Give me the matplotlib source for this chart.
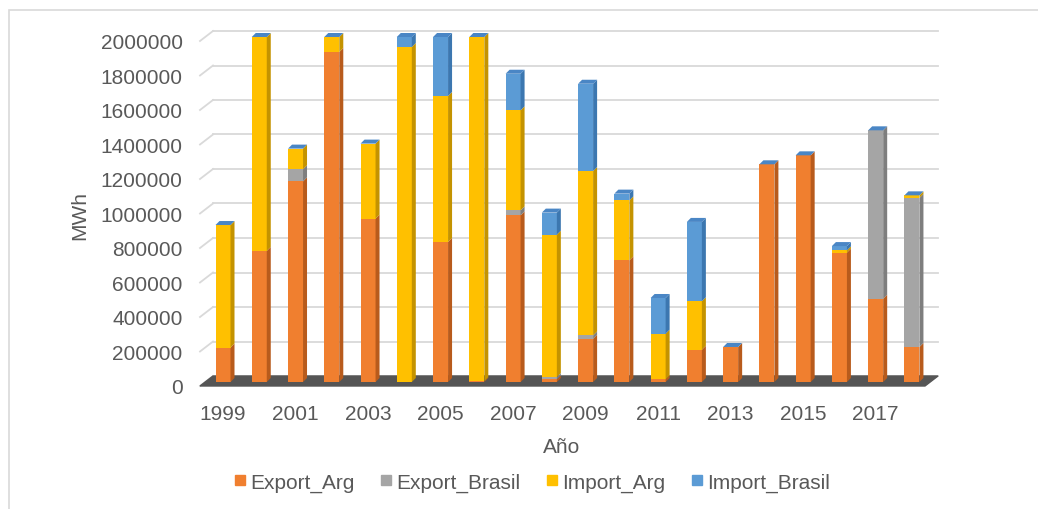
import matplotlib.pyplot as plt
from matplotlib.patches import Polygon, Rectangle
from matplotlib.lines import Line2D
import numpy as np

plt.rcParams['font.family'] = ['Liberation Sans', 'DejaVu Sans']

# datos (MWh)
anios = list(range(1999, 2019))
export_arg = [200000, 760000, 1163000, 1913000, 947000, 0, 812000, 5000, 966000, 15000,
              251000, 705000, 15000, 187000, 203000, 1262000, 1314000, 750000, 483000, 203000]
export_brasil = [0, 0, 70000, 0, 0, 0, 0, 0, 29000, 14000,
                 19000, 0, 0, 0, 0, 0, 0, 0, 976000, 864000]
import_arg = [710000, 1240000, 120000, 87000, 435000, 1942000, 846000, 1995000, 580000, 825000,
              953000, 348000, 265000, 281000, 0, 0, 0, 13000, 0, 15000]
import_brasil = [0, 0, 0, 0, 0, 58000, 342000, 0, 212000, 128000,
                 506000, 39000, 207000, 460000, 0, 0, 0, 25000, 0, 0]

series = [export_arg, export_brasil, import_arg, import_brasil]
nombres = ['Export_Arg', 'Export_Brasil', 'Import_Arg', 'Import_Brasil']
colores = ['#F07F2F', '#A5A5A5', '#FFC000', '#5B9BD5']
laterales = ['#B85B1C', '#7E7E7E', '#C49300', '#3C77B0']
techo = '#4A86C5'
gris_txt = '#595959'

# geometría en píxeles de la imagen
W, H = 1038, 510
L, R, T, B = 195, 945, 20, 395
x0_px, paso_px = 223, 36.26      # centro de la barra 1999 y separación
cero_px, px_2M = 383, 345

fig = plt.figure(figsize=(W / 100, H / 100), dpi=100)
ax = fig.add_axes([L / W, 1 - B / H, (R - L) / W, (B - T) / H])
ax.set_xlim((L - x0_px) / paso_px, (R - x0_px) / paso_px)
v_px = 2e6 / px_2M
ax.set_ylim(-(B - cero_px) * v_px, (cero_px - T) * v_px)
for s in ax.spines.values():
    s.set_visible(False)

# desplazamientos 3D
fondo_dy = 6 * v_px
frente_dy = 4 * v_px
pared_x0 = (200 - x0_px) / paso_px
pared_x1 = (213 - x0_px) / paso_px
pared_x2 = (938 - x0_px) / paso_px
ancho = 15 / paso_px
lado_dx = 4 / paso_px
lado_dy = 4 * v_px

ticks = np.arange(0, 2000001, 200000)
for t in ticks:
    ax.plot([pared_x1, pared_x2], [t + fondo_dy, t + fondo_dy], color='#D9D9D9', lw=1.3, zorder=1)
    ax.plot([pared_x0, pared_x1], [t - frente_dy, t + fondo_dy], color='#D9D9D9', lw=1.3, zorder=1)

# piso
piso_x3 = (925 - x0_px) / paso_px
ax.add_patch(Polygon([[pared_x0, -frente_dy], [pared_x1, fondo_dy], [pared_x2, fondo_dy],
                      [piso_x3, -frente_dy]], closed=True, color='#555555', zorder=2))

# barras apiladas con efecto 3D
for i in range(len(anios)):
    base = 0
    for k, serie in enumerate(series):
        v = serie[i]
        if v > 0:
            ax.add_patch(Rectangle((i - ancho / 2, base), ancho, v, color=colores[k], lw=0, zorder=3))
            ax.add_patch(Polygon([[i + ancho / 2, base], [i + ancho / 2 + lado_dx, base + lado_dy],
                                  [i + ancho / 2 + lado_dx, base + v + lado_dy], [i + ancho / 2, base + v]],
                                 closed=True, color=laterales[k], lw=0, zorder=3))
        base += v
    ax.add_patch(Polygon([[i - ancho / 2, base], [i - ancho / 2 + lado_dx, base + lado_dy],
                          [i + ancho / 2 + lado_dx, base + lado_dy], [i + ancho / 2, base]],
                         closed=True, color=techo, lw=0, zorder=3))

ax.set_yticks(ticks - frente_dy, labels=[str(t) for t in ticks])
ax.set_xticks(range(0, 20, 2), labels=[str(a) for a in anios[::2]])
ax.tick_params(axis='y', length=0, pad=9, labelsize=15, labelcolor=gris_txt)
ax.tick_params(axis='x', length=0, pad=7, labelsize=15, labelcolor=gris_txt)

fig.text(80 / W, 1 - 215 / H, 'MWh', rotation=90, ha='center', va='center', fontsize=15, color=gris_txt)
fig.text(562 / W, 1 - 448 / H, 'Año', ha='center', va='center', fontsize=15, color=gris_txt)

handles = [Line2D([], [], marker='s', ls='', color=c, markersize=7.5) for c in colores]
fig.legend(handles, nombres, loc='center', bbox_to_anchor=(532 / W, 1 - 483 / H), ncol=4,
           frameon=False, fontsize=15, labelcolor=gris_txt, handlelength=0.6, handletextpad=0.2,
           columnspacing=1.2)

# borde del área del gráfico
fig.patches.append(Rectangle((9 / W, -0.1), 1.2, 1 - 11 / H + 0.1, transform=fig.transFigure,
                             fill=False, edgecolor='#D9D9D9', lw=1.2))

fig.savefig('out.png', dpi=100)
